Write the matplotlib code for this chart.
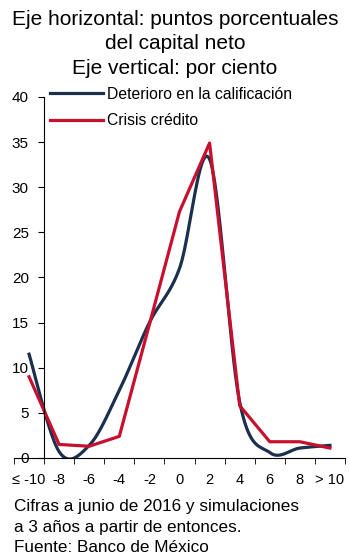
import numpy as np
import matplotlib
matplotlib.use("Agg")
import matplotlib.pyplot as plt

plt.rcParams['font.family'] = ['Liberation Sans', 'DejaVu Sans']

categorias = ["≤ -10", "-8", "-6", "-4", "-2", "0", "2", "4", "6", "8", "> 10"]
deterioro = [11.5, 0.7, 1.4, 7.5, 15.0, 21.0, 33.1, 6.2, 0.6, 1.1, 1.4]
crisis = [9.0, 1.5, 1.3, 2.4, 14.8, 27.3, 34.9, 5.8, 1.8, 1.8, 1.1]

AZUL = "#1b2f4e"
ROJO = "#c8102e"


def suavizar(y, n=40):
    # curva bezier tipo excel (catmull-rom) entre puntos consecutivos
    y = np.asarray(y, dtype=float)
    x = np.arange(len(y), dtype=float)
    xs, ys = [], []
    for i in range(len(y) - 1):
        x0, x3 = x[i], x[i + 1]
        y0, y3 = y[i], y[i + 1]
        ym = y[i - 1] if i > 0 else y[i]
        yp = y[i + 2] if i + 2 < len(y) else y[i + 1]
        xm = x[i - 1] if i > 0 else x[i]
        xp = x[i + 2] if i + 2 < len(y) else x[i + 1]
        x1 = x0 + (x3 - xm) / 6
        y1 = y0 + (y3 - ym) / 6
        x2 = x3 - (xp - x0) / 6
        y2 = y3 - (yp - y0) / 6
        t = np.linspace(0, 1, n)
        a, b, c, d = (1 - t) ** 3, 3 * (1 - t) ** 2 * t, 3 * (1 - t) * t ** 2, t ** 3
        xs.append(a * x0 + b * x1 + c * x2 + d * x3)
        ys.append(a * y0 + b * y1 + c * y2 + d * y3)
    return np.concatenate(xs), np.concatenate(ys)


fig = plt.figure(figsize=(3.5, 5.59), dpi=100)
ax = fig.add_axes([0.04, 0.1807, 0.9457, 0.6458])

xs, ys = suavizar(deterioro)
ax.plot(xs, ys, color=AZUL, lw=2.3, label="Deterioro en la calificación")
ax.plot(np.arange(len(crisis)), crisis, color=ROJO, lw=2.3, label="Crisis crédito")

ax.set_xlim(-0.5, len(categorias) - 0.5)
ax.set_ylim(0, 40)
ax.set_yticks(range(0, 41, 5))
ax.set_xticks(range(len(categorias)))
ax.set_xticklabels(categorias)
ax.set_xticks(np.arange(-0.5, len(categorias), 1), minor=True)
ax.tick_params(axis='x', which='major', length=0, pad=11, labelsize=10.5)
ax.tick_params(axis='x', which='minor', length=4, direction='out')
ax.tick_params(axis='y', length=4, direction='out', pad=7, labelsize=11)

for s in ['top', 'right']:
    ax.spines[s].set_visible(False)
ax.spines['left'].set_position(('data', 0.5))

leg = ax.legend(loc='upper left', bbox_to_anchor=(0.143, 0.845), bbox_transform=fig.transFigure,
                frameon=False, fontsize=11.3, handlelength=3.35, handletextpad=0.25,
                labelspacing=0.75, borderpad=0, borderaxespad=0)

fig.text(0.5, 0.983, "Eje horizontal: puntos porcentuales\ndel capital neto\nEje vertical: por ciento",
         ha='center', va='top', fontsize=15, linespacing=1.38)
fig.text(0.04, 0.107, "Cifras a junio de 2016 y simulaciones\na 3 años a partir de entonces.\nFuente: Banco de México",
         ha='left', va='top', fontsize=12.3, linespacing=1.45)

fig.savefig("out.png", dpi=100)
